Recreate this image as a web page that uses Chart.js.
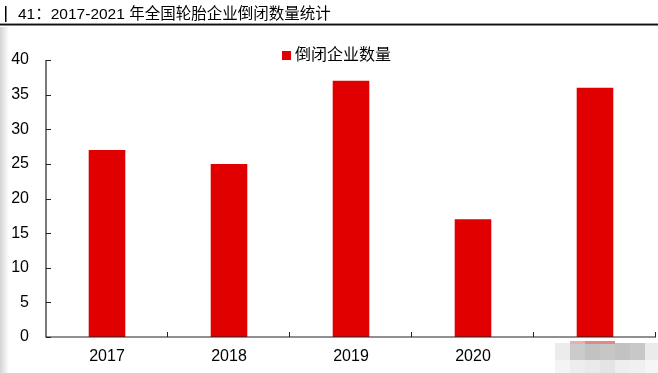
<!DOCTYPE html>
<html>
<head>
<meta charset="utf-8">
<script src="https://cdn.jsdelivr.net/npm/chart.js@4.4.1/dist/chart.umd.min.js"></script>
<style>
  html, body { margin: 0; padding: 0; background: #fff; }
  #wrap { width: 658px; height: 373px; position: relative; }
</style>
</head>
<body>
<div id="wrap"><canvas id="chart" width="658" height="373"></canvas></div>
<script>
// данные
const years = ["2017", "2018", "2019", "2020", "2021"];
const closedCount = [27, 25, 37, 17, 36];
const seriesName = "倒闭企业数量";
const titleText = "41：2017-2021 年全国轮胎企业倒闭数量统计";

const barRed = "#e10000";
const axisColor = "#222";
const font = "'Liberation Sans', Arial, 'Noto Sans CJK SC', sans-serif";

// рамка, заголовок, легенда и оси рисуются вручную
const decor = {
  id: "decor",
  beforeDraw(chart) {
    const ctx = chart.ctx;
    ctx.save();
    ctx.fillStyle = "#fff";
    ctx.fillRect(0, 0, chart.width, chart.height);
    // тень слева
    const g = ctx.createLinearGradient(0, 0, 9, 0);
    g.addColorStop(0, "#d4d4d4");
    g.addColorStop(1, "#ffffff");
    ctx.fillStyle = g;
    ctx.fillRect(0, 27, 9, chart.height - 27);
    ctx.restore();
  },
  afterDraw(chart) {
    const ctx = chart.ctx;
    const x = chart.scales.x, y = chart.scales.y;
    const area = chart.chartArea;
    ctx.save();

    // заголовок
    ctx.fillStyle = "#000";
    ctx.fillRect(5, 6, 1.5, 16);
    ctx.font = "15.5px " + font;
    ctx.textBaseline = "middle";
    ctx.fillText(titleText, 18, 15);
    ctx.fillStyle = "#999";
    ctx.fillRect(0, 23, chart.width, 1);
    ctx.fillStyle = "#111";
    ctx.fillRect(0, 24, chart.width, 1.5);

    // легенда
    ctx.fillStyle = barRed;
    ctx.fillRect(282, 51, 9, 9);
    ctx.fillStyle = "#000";
    ctx.font = "16px " + font;
    ctx.fillText(seriesName, 295, 56);

    // оси
    ctx.strokeStyle = axisColor;
    ctx.lineWidth = 1.2;
    ctx.beginPath();
    ctx.moveTo(area.left, area.top);
    ctx.lineTo(area.left, area.bottom);
    ctx.lineTo(area.right, area.bottom);
    ctx.stroke();
    ctx.lineWidth = 1;
    ctx.beginPath();
    y.ticks.forEach(t => {
      const py = Math.round(y.getPixelForValue(t.value)) + 0.5;
      ctx.moveTo(area.left, py);
      ctx.lineTo(area.left + 5, py);
    });
    const step = (area.right - area.left) / years.length;
    for (let i = 1; i <= years.length; i++) {
      const px = Math.round(area.left + step * i) - 0.5;
      ctx.moveTo(px, area.bottom);
      ctx.lineTo(px, area.bottom - 5);
    }
    ctx.stroke();

    // размытый водяной знак
    const cols = [555, 570, 585, 600, 615, 630, 645];
    const row1 = ["#ececec", "#cbcbcb", "#c2c2c2", "#c6c6c6", "#c2c2c2", "#c8c8c8", "#ebebeb"];
    const row2 = ["#f4f4f4", "#ededed", "#eaeaea", "#e4e4e4", "#eeeeee", "#f0f0f0", "#f6f6f6"];
    cols.forEach((cx, i) => {
      ctx.fillStyle = row1[i];
      ctx.fillRect(cx, 343, 15, 17);
      ctx.fillStyle = row2[i];
      ctx.fillRect(cx, 360, 15, 13);
    });
    ctx.fillStyle = "#e6b0b0";
    ctx.fillRect(570, 341, 15, 3);
    ctx.fillStyle = "#dc8a8a";
    ctx.fillRect(585, 341, 30, 3);
    ctx.restore();
  }
};

new Chart(document.getElementById("chart"), {
  type: "bar",
  plugins: [decor],
  data: {
    labels: years,
    datasets: [{
      label: seriesName,
      data: closedCount,
      backgroundColor: barRed,
      barPercentage: 0.3,
      categoryPercentage: 1.0
    }]
  },
  options: {
    responsive: false,
    animation: false,
    events: [],
    layout: { padding: { top: 60, right: 2, left: 0, bottom: 0 } },
    plugins: {
      legend: { display: false },
      tooltip: { enabled: false }
    },
    scales: {
      x: {
        grid: { display: false, drawTicks: false },
        border: { display: false },
        ticks: { color: "#000", font: { family: font, size: 16 }, padding: 10 },
        afterFit(s) { s.height = 36; }
      },
      y: {
        min: 0,
        max: 40,
        grid: { display: false, drawTicks: false },
        border: { display: false },
        ticks: { stepSize: 5, color: "#000", font: { family: font, size: 16 }, padding: 17 },
        afterFit(s) { s.width = 46; }
      }
    }
  }
});
</script>
</body>
</html>
